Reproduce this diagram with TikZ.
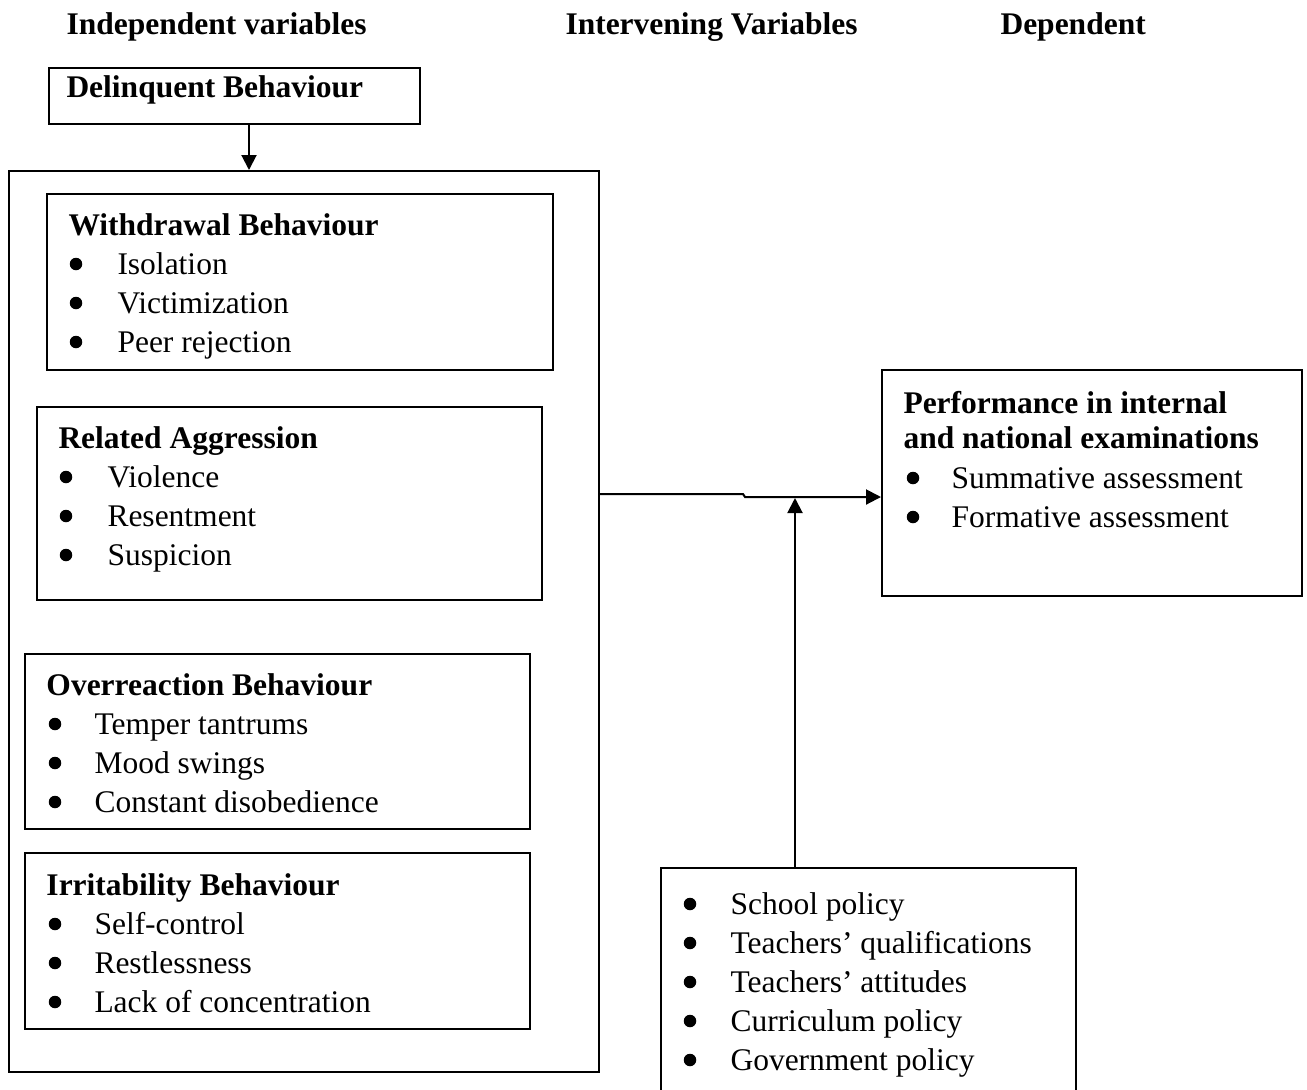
\documentclass[tikz,border=0pt]{standalone}
\usepackage{fontspec}
\setmainfont{Liberation Serif}
\usetikzlibrary{arrows.meta,fit}

\begin{document}
\begin{tikzpicture}[x=0.4pt,y=-0.4pt,
    box/.style={draw, line width=0.8pt, inner sep=0pt},
    item/.style={anchor=base west, inner sep=0pt, font=\fontsize{12.6}{15.6}\selectfont},
    title/.style={item, font=\fontsize{12.6}{15.6}\selectfont\bfseries},
    link/.style={line width=0.8pt, -{Triangle[length=6pt,width=6pt]}}]
    \useasboundingbox (0,0) rectangle (1307,1089);

    % headings
    \node[title] (indep) at (66,34) {Independent variables};
    \node[title] (interv) at (565,34) {Intervening Variables};
    \node[title] (dep) at (1000,34) {Dependent};

    % delinquent behaviour
    \node[box, fit={(49,68) (420,124)}] (delq) {};
    \node[title] (delqt) at (66,97) {Delinquent Behaviour};

    % outer box with the four groups
    \node[box, fit={(9,171) (599,1072)}] (outer) {};

    % withdrawal
    \node[box, fit={(47,194) (553,370)}] (withdraw) {};
    \node[title] (withdrawt) at (68,235) {Withdrawal Behaviour};
    \foreach \t [count=\i] in {Isolation, Victimization, Peer rejection} {
        \fill (76,{225+39*\i}) circle (2.5pt);
        \node[item] (wd\i) at (117,{235+39*\i}) {\t};
    }

    % aggression
    \node[box, fit={(37,407) (542,600)}] (aggr) {};
    \node[title] (aggrt) at (58,448) {Related Aggression};
    \foreach \t [count=\i] in {Violence, Resentment, Suspicion} {
        \fill (66,{438+39*\i}) circle (2.5pt);
        \node[item] (ag\i) at (107,{448+39*\i}) {\t};
    }

    % overreaction
    \node[box, fit={(25,654) (530,829)}] (overr) {};
    \node[title] (overrt) at (46,695) {Overreaction Behaviour};
    \foreach \t [count=\i] in {Temper tantrums, Mood swings, Constant disobedience} {
        \fill (55,{685+39*\i}) circle (2.5pt);
        \node[item] (ov\i) at (94,{695+39*\i}) {\t};
    }

    % irritability
    \node[box, fit={(25,853) (530,1029)}] (irrit) {};
    \node[title] (irritt) at (46,895) {Irritability Behaviour};
    \foreach \t [count=\i] in {Self-control, Restlessness, Lack of concentration} {
        \fill (55,{885+39*\i}) circle (2.5pt);
        \node[item] (ir\i) at (94,{895+39*\i}) {\t};
    }

    % dependent
    \node[box, fit={(882,370) (1302,596)}] (perf) {};
    \node[title] (perft1) at (903,413) {Performance in internal};
    \node[title] (perft2) at (903,448) {and national examinations};
    \foreach \t [count=\i] in {Summative assessment, Formative assessment} {
        \fill (913,{439+39*\i}) circle (2.5pt);
        \node[item] (pf\i) at (951,{449+39*\i}) {\t};
    }

    % intervening
    \node[box, fit={(661,868) (1076,1100)}] (intbox) {};
    \foreach \t [count=\i] in {School policy, Teachers’ qualifications,
        Teachers’ attitudes, Curriculum policy, Government policy} {
        \fill (690,{865+39*\i}) circle (2.5pt);
        \node[item] (iv\i) at (730,{875+39*\i}) {\t};
    }

    % connectors
    \coordinate (dx) at (249,124);
    \coordinate (ja) at (743,494);
    \coordinate (jb) at (745,497);
    \coordinate (vx) at (795,498);
    \draw[link] (delq.south -| dx) -- (outer.north -| dx);
    \draw[link] (outer.east |- ja) -- (ja) -- (jb) -- (perf.west |- jb);
    \draw[link] (intbox.north -| vx) -- (vx);
\end{tikzpicture}
\end{document}
